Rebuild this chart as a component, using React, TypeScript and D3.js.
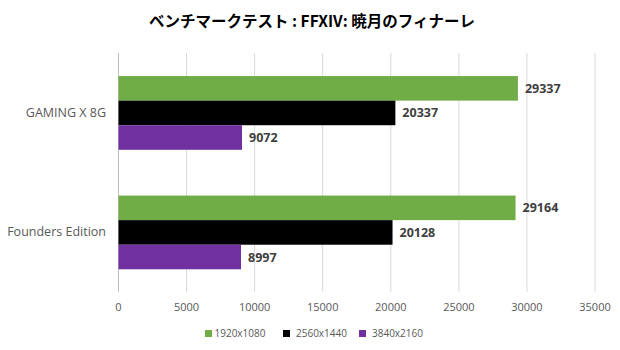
import React from "react";
import * as d3 from "d3";

const title = "ベンチマークテスト : FFXIV: 暁月のフィナーレ";
const categories = ["GAMING X 8G", "Founders Edition"];
const seriesNames = ["1920x1080", "2560x1440", "3840x2160"];
const seriesColors = ["#70AD47", "#000000", "#7030A0"];
const values1920 = [29337, 29164];
const values2560 = [20337, 20128];
const values3840 = [9072, 8997];
const xTicks = [0, 5000, 10000, 15000, 20000, 25000, 30000, 35000];

const seriesValues = [values1920, values2560, values3840];

const W = 620;
const H = 350;
const plot = { left: 118.5, right: 595, top: 53, bottom: 292 };
const font = "'Open Sans', 'Noto Sans', sans-serif";

export default function App() {
  const x = d3.scaleLinear().domain([0, 35000]).range([plot.left, plot.right]);
  const y = d3.scaleBand<string>().domain(categories).range([plot.top, plot.bottom]).paddingInner(0).paddingOuter(0);
  const step = y.bandwidth();
  const inner = d3
    .scaleBand<string>()
    .domain(seriesNames)
    .range([step * 0.193, step * 0.81])
    .padding(0);

  const legendItems = [
    { sx: 205, tx: 214.5 },
    { sx: 283, tx: 296 },
    { sx: 359, tx: 372 },
  ];

  return (
    <svg
      width={W}
      height={H}
      style={{ position: "absolute", left: 0, top: 0, background: "#fff" }}
    >
      <rect x={0} y={0} width={W} height={H} fill="#fff" />
      <text
        x={312}
        y={27}
        textAnchor="middle"
        fontFamily="'Noto Sans CJK JP', sans-serif"
        fontWeight="bold"
        fontSize={15.5}
        fill="#000"
      >
        {title}
      </text>
      {xTicks.map((t) => (
        <line
          key={t}
          x1={x(t)}
          x2={x(t)}
          y1={plot.top}
          y2={plot.bottom}
          stroke={t === 0 ? "#bfbfbf" : "#d9d9d9"}
          strokeWidth={1}
        />
      ))}
      {xTicks.map((t) => (
        <text
          key={"l" + t}
          x={x(t)}
          y={311}
          textAnchor="middle"
          fontFamily={font}
          fontSize={11}
          fill="#595959"
        >
          {t}
        </text>
      ))}
      {categories.map((c, ci) => (
        <g key={c} transform={`translate(0,${y(c)})`}>
          <text
            x={106}
            y={step / 2 + 4}
            textAnchor="end"
            fontFamily={font}
            fontSize={12.5}
            fill="#595959"
          >
            {c}
          </text>
          {seriesNames.map((s, si) => {
            const v = seriesValues[si][ci];
            const by = inner(s) as number;
            const bh = inner.bandwidth();
            return (
              <g key={s}>
                <rect
                  x={x(0)}
                  y={by}
                  width={x(v) - x(0)}
                  height={bh}
                  fill={seriesColors[si]}
                />
                <text
                  x={x(v) + 7}
                  y={by + bh / 2 + 4.5}
                  fontFamily={font}
                  fontWeight="bold"
                  fontSize={12.5}
                  fill="#404040"
                >
                  {v}
                </text>
              </g>
            );
          })}
        </g>
      ))}
      {seriesNames.map((s, i) => (
        <g key={"lg" + s}>
          <rect x={legendItems[i].sx} y={330} width={7} height={7} fill={seriesColors[i]} />
          <text
            x={legendItems[i].tx}
            y={337}
            fontFamily={font}
            fontSize={10}
            fill="#595959"
          >
            {s}
          </text>
        </g>
      ))}
    </svg>
  );
}
